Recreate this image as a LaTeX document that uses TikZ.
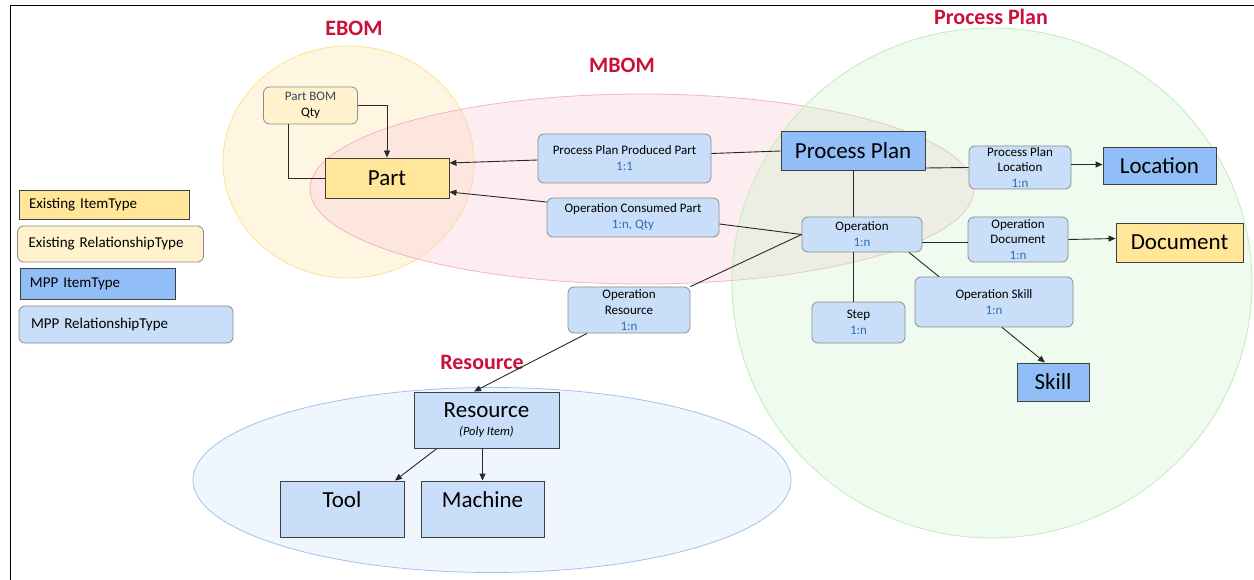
\documentclass[tikz,border=0pt]{standalone}
\usepackage{fontspec}
\setmainfont{Carlito}
\usetikzlibrary{arrows.meta,calc}
\definecolor{itemyel}{RGB}{255,230,153}
\definecolor{relyel}{RGB}{255,242,204}
\definecolor{itemblue}{RGB}{145,190,246}
\definecolor{relblue}{RGB}{201,222,248}
\definecolor{labred}{RGB}{204,16,58}
\definecolor{cardblue}{RGB}{46,108,185}
\definecolor{pbomtxt}{RGB}{52,72,104}
\definecolor{relborder}{RGB}{140,140,140}
\definecolor{itemborder}{RGB}{64,64,64}
\definecolor{lineclr}{RGB}{40,40,40}
\definecolor{ebomfill}{RGB}{255,238,196}
\definecolor{ebomline}{RGB}{255,225,140}
\definecolor{mbomfill}{RGB}{250,205,215}
\definecolor{mbomline}{RGB}{245,180,192}
\definecolor{ppfill}{RGB}{205,243,205}
\definecolor{ppline}{RGB}{190,238,185}
\definecolor{resfill}{RGB}{205,224,248}
\definecolor{resline}{RGB}{160,195,238}
\tikzset{
  smallfont/.style={font=\fontsize{13}{16}\selectfont},
  relbox/.style={draw=relborder, fill=relblue, rounded corners=6pt, line width=0.8pt, align=center, inner sep=0pt, smallfont},
  itembox/.style={draw=itemborder, fill=itemblue, line width=0.9pt, inner sep=0pt, font=\fontsize{23}{27}\selectfont},
  region/.style={font=\bfseries\fontsize{22}{26}\selectfont, text=labred, inner sep=0pt},
  conn/.style={draw=lineclr, line width=0.9pt},
  arr/.style={conn, -{Triangle[length=7pt,width=6pt]}},
  legtext/.style={font=\fontsize{15}{18}\selectfont, align=left, inner xsep=10pt, inner ysep=0pt},
  area/.style={line width=0.8pt, fill opacity=0.5},
}
\newcommand{\card}[1]{\textcolor{cardblue}{#1}}
\begin{document}
\begin{tikzpicture}[x=1pt,y=-1pt]
\useasboundingbox (0,0) rectangle (1254,580);
% frame
\draw[line width=0.9pt] (10,580) -- (10,5) -- (1254,5);
% regions
\draw[area, draw=resline, fill=resfill, fill opacity=0.3] (492,480) ellipse [x radius=299pt, y radius=92.5pt];
\draw[area, draw=ebomline, fill=ebomfill] (348.5,162) ellipse [x radius=125.5pt, y radius=116pt];
\draw[area, draw=mbomline, fill=mbomfill, fill opacity=0.38] (642,189) ellipse [x radius=332pt, y radius=95pt];
\draw[area, draw=ppline, fill=ppfill, fill opacity=0.35] (992,283) ellipse [x radius=260pt, y radius=255pt];
% region labels
\node[region] (lebom) at (354,28) {EBOM};
\node[region] (lmbom) at (622,65) {MBOM};
\node[region] (lpp) at (991,17) {Process Plan};
\node[region] (lres) at (482,362) {Resource};
% legend
\node[legtext, draw=itemborder, fill=itemyel, line width=0.9pt, text width=150pt, minimum height=29pt] (lg1) at (104,204.5) {Existing ItemType};
\node[legtext, draw=relborder, fill=relyel, line width=0.8pt, rounded corners=6pt, text width=164pt, minimum height=36pt, inner xsep=11pt] (lg2) at (110.5,244) {Existing RelationshipType};
\node[legtext, draw=itemborder, fill=itemblue, line width=0.9pt, text width=135pt, minimum height=31pt] (lg3) at (97.5,283.5) {MPP ItemType};
\node[legtext, draw=relborder, fill=relblue, line width=0.8pt, rounded corners=6pt, text width=190pt, minimum height=37pt, inner xsep=12pt] (lg4) at (126,324.5) {MPP RelationshipType};
% nodes
\node[relbox, fill=relyel, minimum width=94pt, minimum height=37pt] (pbom) at (310.5,105.5) {\textcolor{pbomtxt}{Part BOM}\\Qty};
\node[itembox, fill=itemyel, minimum width=124pt, minimum height=40pt] (part) at (387,178) {Part};
\node[relbox, minimum width=173pt, minimum height=49pt] (pppp) at (624.5,158.5) {Process Plan Produced Part\\\card{1:1}};
\node[relbox, minimum width=172pt, minimum height=39pt] (ocp) at (633,217.5) {Operation Consumed Part\\\card{1:n, Qty}};
\node[itembox, minimum width=144pt, minimum height=39pt] (pp) at (853,151) {Process Plan};
\node[relbox, minimum width=102pt, minimum height=43pt, font=\fontsize{13}{15.5}\selectfont] (ppl) at (1020,167.5) {Process Plan\\Location\\\card{1:n}};
\node[itembox, minimum width=113pt, minimum height=37pt] (loc) at (1159.5,165.5) {Location};
\node[relbox, minimum width=120pt, minimum height=35pt] (op) at (862,234.5) {Operation\\\card{1:n}};
\node[relbox, minimum width=100pt, minimum height=45pt, font=\fontsize{13}{15.5}\selectfont] (opdoc) at (1018,239.5) {Operation\\Document\\\card{1:n}};
\node[itembox, fill=itemyel, minimum width=127pt, minimum height=39pt] (doc) at (1179.5,242.5) {Document};
\node[relbox, minimum width=158pt, minimum height=50pt] (opskill) at (994,302) {Operation Skill\\\card{1:n}};
\node[relbox, minimum width=93pt, minimum height=41pt] (step) at (858.5,322.5) {Step\\\card{1:n}};
\node[itembox, minimum width=72pt, minimum height=38pt] (skill) at (1053,382) {Skill};
\node[relbox, minimum width=122pt, minimum height=46pt] (opres) at (629,310) {Operation\\Resource\\\card{1:n}};
\node[itembox, fill=relblue, minimum width=145pt, minimum height=56pt, align=center] (res) at (486.5,420) {Resource\\[-9pt]{\fontsize{12.5}{14}\selectfont\itshape (Poly Item)}};
\node[itembox, fill=relblue, minimum width=124pt, text height=26.5pt, text depth=29.5pt] (tool) at (342,509) {Tool};
\node[itembox, fill=relblue, minimum width=123pt, text height=26.5pt, text depth=29.5pt] (mach) at (482.5,509) {Machine};
% connectors
\draw[arr] (pbom.east) -| (part.north);
\draw[conn] ([xshift=-22.5pt]pbom.south) |- (part.west);
\draw[arr] ([yshift=-1.5pt]pppp.west) -- ([yshift=15pt]part.east);
\draw[arr] ([yshift=15.5pt]ocp.west) -- ([yshift=-14pt]part.east);
\draw[conn] ([yshift=5pt]pppp.east) -- (pp.west);
\draw[conn] ([yshift=-6.5pt]ocp.east) -- (op.west);
\draw[conn] (pp.south) -- (pp.south |- op.north);
\draw[conn] ([yshift=-17pt]pp.east) -- (ppl.west);
\draw[arr] ([yshift=3pt]ppl.east) -- ([yshift=1pt]loc.west);
\draw[conn] ([yshift=-7.5pt]op.east) -- ([yshift=-2.5pt]opdoc.west);
\draw[arr] (opdoc.east) -- ([yshift=4pt]doc.west);
\draw[conn] (op.south -| pp.south) -- (step.north -| pp.south);
\draw[conn] ([xshift=47pt]op.south) -- ([xshift=-55pt]opskill.north);
\draw[arr] ([xshift=8pt]opskill.south) -- ([xshift=-8pt]skill.north);
\draw[conn] (opres.north east) -- (op.west);
\draw[arr] ([xshift=-42pt]opres.south) -- ([xshift=-12.5pt]res.north);
\draw[arr] ([xshift=-49.5pt]res.south) -- ([xshift=53pt]tool.north);
\draw[arr] (res.south -| mach.north) -- (mach.north);
\end{tikzpicture}
\end{document}
